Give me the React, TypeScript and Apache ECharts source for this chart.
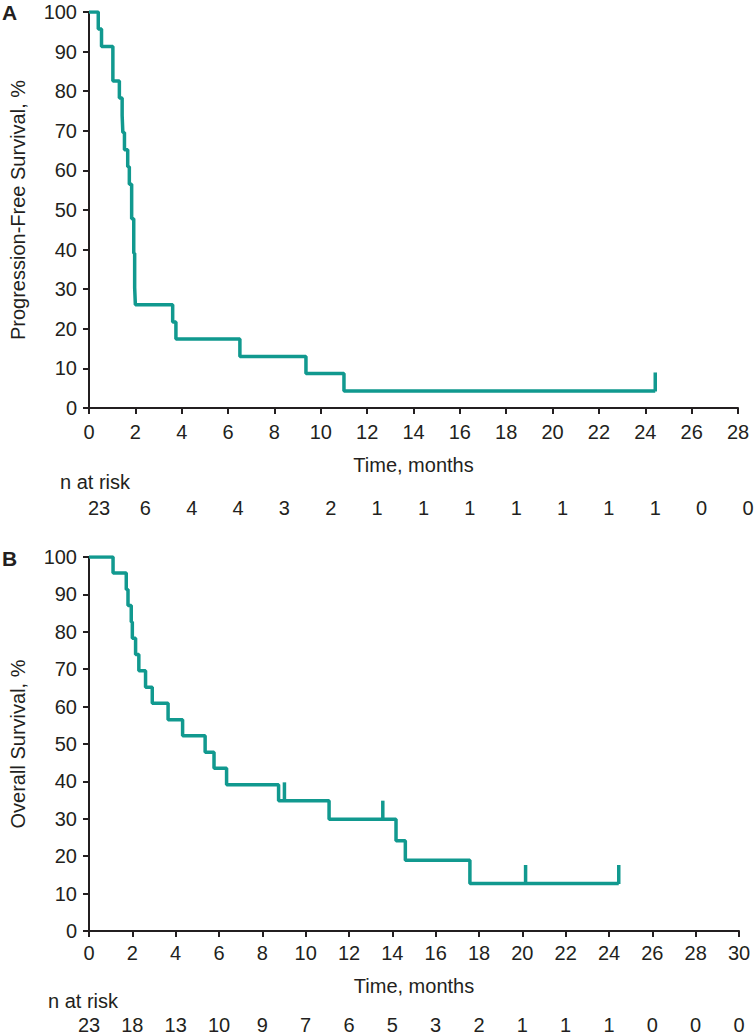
import React, { useEffect, useRef } from "react";
import * as echarts from "echarts";

// Panel A: progression-free survival (Kaplan-Meier), time of each drop and level after it
const pfsTime = [0, 0.4, 0.54, 1.03, 1.31, 1.43, 1.46, 1.53, 1.67, 1.74, 1.84, 1.93, 1.97, 2.0, 3.61, 3.75, 6.51, 9.36, 11.0, 24.43];
const pfsSurv = [100, 95.7, 91.3, 82.6, 78.3, 73.9, 69.6, 65.2, 60.9, 56.5, 47.8, 39.1, 30.4, 26.1, 21.7, 17.4, 13.0, 8.7, 4.3, 4.3];
const pfsCensorTime = [24.43];
const pfsCensorSurv = [4.3];
const riskTimesA = [0, 2, 4, 6, 8, 10, 12, 14, 16, 18, 20, 22, 24, 26, 28];
const riskA = [23, 6, 4, 4, 3, 2, 1, 1, 1, 1, 1, 1, 1, 0, 0];

// Panel B: overall survival
const osTime = [0, 1.11, 1.72, 1.8, 1.95, 2.0, 2.15, 2.3, 2.61, 2.92, 3.65, 4.32, 5.36, 5.77, 6.35, 8.75, 11.08, 14.17, 14.6, 17.58, 24.45];
const osSurv = [100, 95.7, 91.3, 87.0, 82.6, 78.3, 73.9, 69.6, 65.2, 60.9, 56.5, 52.2, 47.8, 43.5, 39.1, 34.8, 29.9, 24.1, 18.9, 12.7, 12.7];
const osCensorTime = [9.02, 13.56, 20.15, 24.45];
const osCensorSurv = [34.8, 29.9, 12.7, 12.7];
const riskTimesB = [0, 2, 4, 6, 8, 10, 12, 14, 16, 18, 20, 22, 24, 26, 28, 30];
const riskB = [23, 18, 13, 10, 9, 7, 6, 5, 3, 2, 1, 1, 1, 0, 0, 0];

const FONT = '"Liberation Sans", Arial, Helvetica, sans-serif';
const TEXT = "#231f20";
const TEAL = "#11998f";

export default function App() {
  const ref = useRef<HTMLDivElement>(null);

  useEffect(() => {
    if (!ref.current) return;
    const chart = echarts.init(ref.current, undefined, { renderer: "svg" });

    const axisCommon = {
      axisLine: { show: true, onZero: false, lineStyle: { color: TEXT, width: 2 } },
      axisTick: { show: true, inside: false, length: 6, lineStyle: { color: TEXT, width: 2 } },
      splitLine: { show: false },
      nameTextStyle: { color: TEXT, fontSize: 20, fontFamily: FONT },
    };
    const labelCommon = { color: TEXT, fontSize: 20, fontFamily: FONT };

    const xAxis = (max: number, gap: number, margin: number, idx: number) => ({
      type: "value",
      gridIndex: idx,
      min: 0,
      max,
      interval: 2,
      name: "Time, months",
      nameLocation: "middle",
      nameGap: gap,
      ...axisCommon,
      axisLabel: { ...labelCommon, margin },
    });
    const yAxis = (name: string, idx: number) => ({
      type: "value",
      gridIndex: idx,
      min: 0,
      max: 100,
      interval: 10,
      name,
      nameLocation: "middle",
      nameGap: 61,
      ...axisCommon,
      axisLabel: { ...labelCommon, margin: 12 },
    });

    const km = (t: number[], s: number[], idx: number) => ({
      type: "line",
      xAxisIndex: idx,
      yAxisIndex: idx,
      step: "end",
      showSymbol: false,
      symbol: "none",
      data: t.map((v, i) => [v, s[i]]),
      lineStyle: { color: TEAL, width: 3.5 },
      silent: true,
    });
    const censor = (t: number[], s: number[], idx: number) => ({
      type: "scatter",
      xAxisIndex: idx,
      yAxisIndex: idx,
      symbol: "rect",
      symbolSize: [3.5, 19],
      symbolOffset: [0, -9],
      itemStyle: { color: TEAL, opacity: 1 },
      data: t.map((v, i) => [v, s[i]]),
      silent: true,
    });

    chart.setOption({
      animation: false,
      backgroundColor: "#ffffff",
      grid: [
        { left: 85, top: 12, width: 653, height: 396 },
        { left: 84, top: 557, width: 655, height: 374 },
      ],
      xAxis: [xAxis(28, 47, 14, 0), xAxis(30, 45, 12, 1)],
      yAxis: [yAxis("Progression-Free Survival, %", 0), yAxis("Overall Survival, %", 1)],
      series: [
        km(pfsTime, pfsSurv, 0),
        censor(pfsCensorTime, pfsCensorSurv, 0),
        km(osTime, osSurv, 1),
        censor(osCensorTime, osCensorSurv, 1),
      ],
    });

    const txt = (text: string, x: number, y: number, align: string, extra: any = {}) => ({
      type: "text",
      x,
      y,
      silent: true,
      style: {
        text,
        fill: TEXT,
        fontSize: 20,
        fontFamily: FONT,
        align,
        verticalAlign: "middle",
        ...extra,
      },
    });

    const elements: any[] = [];
    elements.push(txt("A", 2, 12, "left", { fontWeight: "bold", fontSize: 21 }));
    elements.push(txt("B", 2, 558, "left", { fontWeight: "bold", fontSize: 21 }));
    elements.push(txt("n at risk", 60, 482, "left"));
    elements.push(txt("n at risk", 48, 1001, "left"));
    riskA.forEach((n, i) => {
      const p = chart.convertToPixel({ gridIndex: 0 } as any, [riskTimesA[i], 0]) as number[];
      elements.push(txt(String(n), p[0] + 10, 508, "center"));
    });
    riskB.forEach((n, i) => {
      const p = chart.convertToPixel({ gridIndex: 1 } as any, [riskTimesB[i], 0]) as number[];
      elements.push(txt(String(n), p[0], 1025, "center"));
    });
    chart.setOption({ graphic: elements });

    return () => chart.dispose();
  }, []);

  return (
    <div
      ref={ref}
      style={{ position: "absolute", left: 0, top: 0, width: 754, height: 1036, background: "#fff" }}
    />
  );
}
